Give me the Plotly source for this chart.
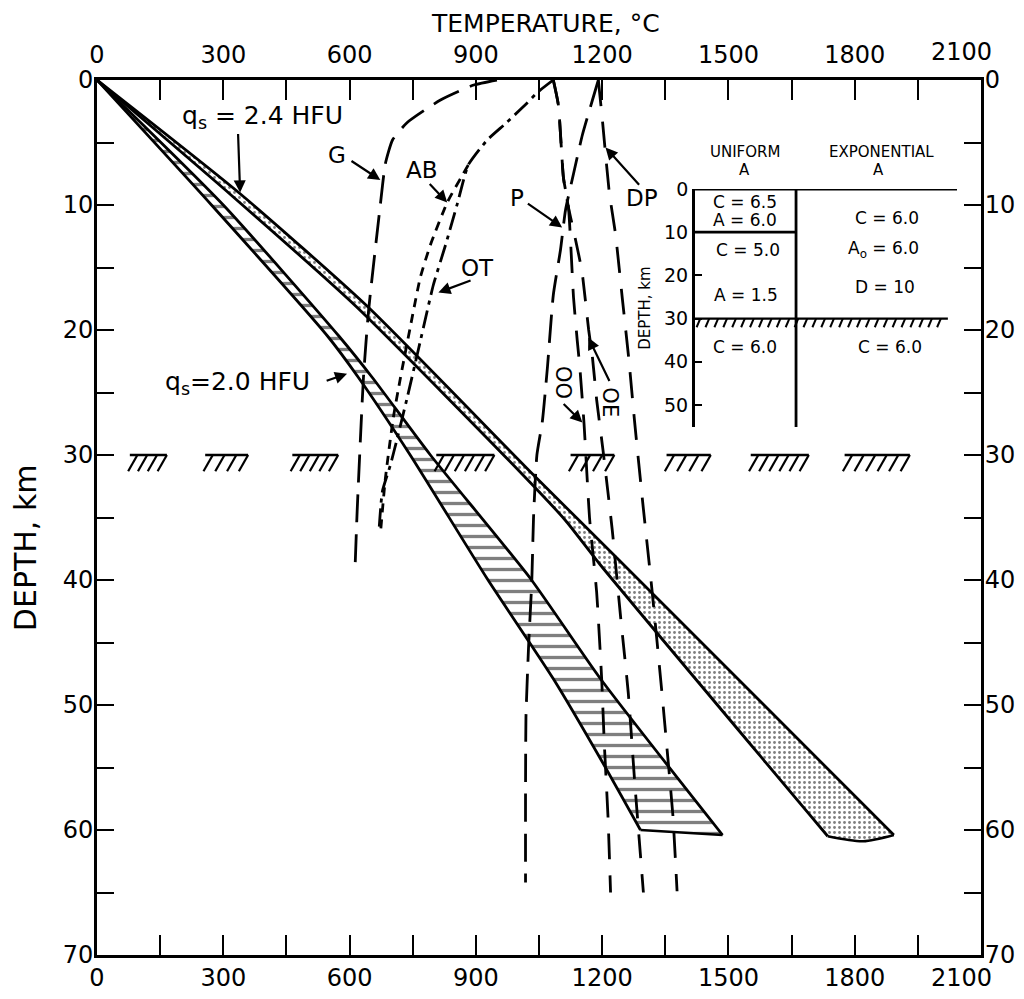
import plotly.graph_objects as go

# ---------------- data ----------------
X_TICKS = list(range(0, 2101, 150))
X_LABELS = [str(v) if v % 300 == 0 and v < 2100 else "" for v in X_TICKS]
X_LAST_LABEL = "2100"
Y_TICKS = list(range(0, 71, 5))
Y_LABELS = [str(v) if v % 10 == 0 else "" for v in Y_TICKS]

# q_s = 2.4 HFU geotherm band (stippled)
HFU24_HOT_T = [0, 340, 642, 1037, 1237, 1893]
HFU24_HOT_Z = [0, 9.1, 18.1, 31.6, 38.3, 60.4]
HFU24_COOL_T = [0, 315, 615, 1012, 1112, 1196, 1736]
HFU24_COOL_Z = [0, 9.1, 18.1, 31.6, 35.2, 38.8, 60.5]
HFU24_TIP_T = [1820]
HFU24_TIP_Z = [60.9]

# q_s = 2.0 HFU geotherm band (hatched)
HFU20_HOT_T = [0, 300, 575, 654, 792, 1030, 1196, 1486]
HFU20_HOT_Z = [0, 10, 20.5, 23.8, 30, 39.9, 47.9, 60.4]
HFU20_COOL_T = [0, 272, 548, 621, 744, 927, 1084, 1196, 1291]
HFU20_COOL_Z = [0, 10, 20.5, 23.8, 30, 39.9, 47.9, 54.3, 60]

# solidus / melting curves
G_T = [950, 895, 816, 737, 702, 685, 673, 645, 633, 618, 613]
G_Z = [0, 0.4, 1.6, 3.4, 4.8, 6.7, 10, 18.5, 23.8, 34.5, 39.1]
OT_T = [1084, 1046, 1023, 970, 927, 882, 856, 828, 799, 768, 737, 713, 697, 678, 670]
OT_Z = [0, 1, 1.8, 3.5, 4.8, 6.8, 9.9, 13.2, 16.4, 20.9, 25.4, 28.7, 30.8, 32.9, 36]
AB_T = [882, 832, 792, 768, 744, 721, 704, 685, 673]
AB_Z = [6.8, 9.8, 13.2, 15.8, 19.8, 23.8, 27, 31.9, 36.4]
P_T = [1191, 1177, 1153, 1132, 1113, 1101, 1084, 1070, 1058, 1045, 1037, 1033, 1025, 1019, 1018, 1018]
P_Z = [0, 1.6, 4.4, 7.5, 10.4, 13.6, 17.2, 23, 27.3, 30, 35, 40, 45.5, 51, 57, 64.2]
DP_T = [1191, 1200, 1217, 1232, 1248, 1263, 1277, 1297, 1319, 1342, 1356, 1368, 1378]
DP_Z = [0, 3, 9, 12.4, 17.5, 22.2, 27.3, 34, 41, 49, 54.2, 58.8, 64.9]
OO_T = [1084, 1096, 1108, 1120, 1132, 1141, 1147, 1157, 1170, 1187, 1199, 1205, 1214, 1220]
OO_Z = [0, 2, 7.8, 10.2, 17.4, 20.9, 23, 27.5, 35, 41, 48, 53, 59, 65]
OE_T = [1084, 1096, 1108, 1120, 1135, 1152, 1168, 1177, 1187, 1202, 1224, 1244, 1262, 1277, 1298]
OE_Z = [0, 2, 7.8, 10.2, 12.5, 15.3, 20, 22.2, 25.6, 29.6, 36, 43, 49, 56, 65]

# Moho (30 km) symbol segments
MOHO_DEPTH = 30
MOHO_SEG_START = [78, 257, 464, 806, 1125, 1353, 1553, 1776]
MOHO_SEG_END = [166, 359, 573, 944, 1229, 1458, 1691, 1931]

# inset: heat-production models
INSET_TICKS = [0, 10, 20, 30, 40, 50]
INSET_BOTTOM = 55.1
UNIFORM_BOUNDS = [0, 10, 30]
UNIFORM_TEXT = ["C = 6.5", "A = 6.0", "C = 5.0", "A = 1.5", "C = 6.0"]
EXPO_TEXT = ["C = 6.0", "A<sub>o</sub> = 6.0", "D = 10", "C = 6.0"]

FONT = "DejaVu Sans"

# ---------------- figure ----------------
fig = go.Figure()


def add_band(hot_t, hot_z, cool_t, cool_z, tip_t, tip_z, pattern):
    xs = hot_t + tip_t + cool_t[::-1]
    ys = hot_z + tip_z + cool_z[::-1]
    fig.add_trace(go.Scatter(
        x=xs, y=ys, mode="lines", fill="toself", fillcolor="white",
        fillpattern=pattern, line=dict(color="rgba(0,0,0,0)", width=0),
        hoverinfo="skip", showlegend=False))
    for t, z in ((hot_t, hot_z), (cool_t, cool_z)):
        fig.add_trace(go.Scatter(
            x=t, y=z, mode="lines",
            line=dict(color="black", width=2.8, shape="spline", smoothing=0.6),
            hoverinfo="skip", showlegend=False))
    bt = [hot_t[-1]] + tip_t + [cool_t[-1]]
    bz = [hot_z[-1]] + tip_z + [cool_z[-1]]
    fig.add_trace(go.Scatter(
        x=bt, y=bz, mode="lines",
        line=dict(color="black", width=2.4, shape="spline", smoothing=0.8),
        hoverinfo="skip", showlegend=False))


add_band(HFU24_HOT_T, HFU24_HOT_Z, HFU24_COOL_T, HFU24_COOL_Z,
         HFU24_TIP_T, HFU24_TIP_Z,
         dict(shape=".", fgcolor="black", bgcolor="white", size=5, solidity=0.25))
add_band(HFU20_HOT_T, HFU20_HOT_Z, HFU20_COOL_T, HFU20_COOL_Z, [], [],
         dict(shape="-", fgcolor="black", bgcolor="white", size=11, solidity=0.3))


def add_curve(t, z, dash, width=2.8):
    fig.add_trace(go.Scatter(
        x=t, y=z, mode="lines",
        line=dict(color="black", width=width, dash=dash, shape="spline", smoothing=0.5),
        hoverinfo="skip", showlegend=False))


add_curve(G_T, G_Z, "28px,12px")
add_curve(OT_T, OT_Z, "18px,6px,4px,6px")
add_curve(AB_T, AB_Z, "9px,7px")
add_curve(P_T, P_Z, "28px,12px")
add_curve(DP_T, DP_Z, "26px,16px")
add_curve(OO_T, OO_Z, "26px,16px")
add_curve(OE_T, OE_Z, "24px,16px")

# Moho symbol
mx, my, sx, sy = [], [], [], []
for s, e in zip(MOHO_SEG_START, MOHO_SEG_END):
    mx += [s, e, None]
    my += [MOHO_DEPTH, MOHO_DEPTH, None]
    n = max(3, round((e - s) / 24))
    for k in range(n):
        t0 = s + 18 + k * (e - s - 18) / (n - 1)
        sx += [t0, t0 - 22, None]
        sy += [MOHO_DEPTH, MOHO_DEPTH + 1.3, None]
fig.add_trace(go.Scatter(x=mx, y=my, mode="lines", line=dict(color="black", width=2.4),
                         hoverinfo="skip", showlegend=False))
fig.add_trace(go.Scatter(x=sx, y=sy, mode="lines", line=dict(color="black", width=2.2),
                         hoverinfo="skip", showlegend=False))

# dummy trace for top/right axes
fig.add_trace(go.Scatter(x=[0], y=[0], xaxis="x2", yaxis="y2", mode="markers",
                         marker=dict(opacity=0), hoverinfo="skip", showlegend=False))

# ---------------- inset ----------------
MID = 0.3855
ix, iy = [], []
ix += [0, 1, None]; iy += [UNIFORM_BOUNDS[0]] * 2 + [None]
ix += [0, MID, None]; iy += [UNIFORM_BOUNDS[1]] * 2 + [None]
ix += [MID, MID, None]; iy += [0, INSET_BOTTOM, None]
fig.add_trace(go.Scatter(x=ix, y=iy, xaxis="x3", yaxis="y3", mode="lines",
                         line=dict(color="black", width=2.8), hoverinfo="skip", showlegend=False))
fig.add_trace(go.Scatter(x=[0, 0.965], y=[UNIFORM_BOUNDS[2]] * 2, xaxis="x3", yaxis="y3",
                         mode="lines", line=dict(color="black", width=2.4),
                         hoverinfo="skip", showlegend=False))
hx, hy = [], []
k = 0
while 0.02 + k * 0.034 <= 0.965:
    x0 = 0.02 + k * 0.034
    hx += [x0, x0 - 0.014, None]
    hy += [UNIFORM_BOUNDS[2], UNIFORM_BOUNDS[2] + 2.0, None]
    k += 1
fig.add_trace(go.Scatter(x=hx, y=hy, xaxis="x3", yaxis="y3", mode="lines",
                         line=dict(color="black", width=2), hoverinfo="skip", showlegend=False))

# ---------------- annotations ----------------
ann = []


def label(text, x, y, size=23, angle=0, xref="x", yref="y"):
    ann.append(dict(text=text, x=x, y=y, xref=xref, yref=yref, showarrow=False,
                    xanchor="center", yanchor="middle", borderpad=0,
                    textangle=angle, font=dict(family=FONT, size=size, color="black")))


def arrow(tx, tz, hx_, hz):
    ann.append(dict(text="", x=hx_, y=hz, ax=tx, ay=tz, xref="x", yref="y",
                    axref="x", ayref="y", showarrow=True, arrowhead=2,
                    arrowsize=1.1, arrowwidth=2.2, arrowcolor="black", standoff=0))


label("q<sub>s</sub> = 2.4 HFU", 392, 2.96, size=25)
arrow(335, 4.2, 340, 9.0)
label("q<sub>s</sub>=2.0 HFU", 333, 24.2, size=25)
arrow(542, 24.1, 594, 23.5)
label("G", 570, 6.0)
arrow(601, 6.4, 673, 8.0)
label("AB", 773, 7.2)
arrow(787, 8.2, 832, 9.8)
label("OT", 903, 15.0)
arrow(891, 16.0, 811, 17.0)
label("P", 998, 9.4)
arrow(1020, 9.8, 1105, 11.8)
label("DP", 1295, 9.4)
arrow(1291, 8.5, 1208, 5.4)
label("OO", 1108, 24.2, size=21, angle=90)
arrow(1105, 25.8, 1153, 27.4)
label("OE", 1219, 25.8, size=21, angle=90)
arrow(1219, 24.2, 1167, 20.6)

# titles
label("TEMPERATURE, °C", 0.5068, 1.0651, size=25, xref="paper", yref="paper")
label("DEPTH, km", -0.0814, 0.465, size=30, angle=-90, xref="paper", yref="paper")
# last temperature tick label, set slightly inside the corner as in the original
label(X_LAST_LABEL, 0.9785, 1.0320, size=24, xref="paper", yref="paper")
label(X_LAST_LABEL, 0.9785, -0.0263, size=24, xref="paper", yref="paper")

# inset header and texts
label("UNIFORM", 0.733, 0.9177, size=15, xref="paper", yref="paper")
label("EXPONENTIAL", 0.887, 0.9177, size=15, xref="paper", yref="paper")
label("A", 0.733, 0.8971, size=15, xref="paper", yref="paper")
label("A", 0.8835, 0.8971, size=15, xref="paper", yref="paper")
for txt, xx, zz in zip(UNIFORM_TEXT, [0.191, 0.191, 0.202, 0.195, 0.191], [3.0, 7.2, 14.1, 24.5, 36.6]):
    label(txt, xx, zz, size=17, xref="x3", yref="y3")
for txt, xx, zz in zip(EXPO_TEXT, [0.733, 0.718, 0.725, 0.744], [6.7, 14.1, 22.7, 36.6]):
    label(txt, xx, zz, size=17, xref="x3", yref="y3")

# ---------------- layout ----------------
xcommon = dict(range=[0, 2100], tickvals=X_TICKS, ticktext=X_LABELS, ticks="inside",
               ticklen=20, tickwidth=2.2, tickcolor="black", showline=True, linecolor="black",
               linewidth=3, showgrid=False, zeroline=False, automargin=False,
               tickfont=dict(family=FONT, size=24, color="black"))
ycommon = dict(range=[70, 0], tickvals=Y_TICKS, ticktext=Y_LABELS, ticks="inside",
               ticklen=17, tickwidth=2.2, tickcolor="black", showline=True, linecolor="black",
               linewidth=3, showgrid=False, zeroline=False, automargin=False,
               tickfont=dict(family=FONT, size=24, color="black"), ticklabelstandoff=-4)

# the page body adds an 8px margin, so the figure is sized to fit inside it
fig.update_layout(
    width=1008, height=983,
    margin=dict(l=89, r=35, t=72, b=36, autoexpand=False),
    paper_bgcolor="white", plot_bgcolor="white",
    font=dict(family=FONT, color="black"),
    showlegend=False,
    xaxis=dict(**xcommon, side="bottom", anchor="y", ticklabelstandoff=-1),
    xaxis2=dict(**xcommon, side="top", overlaying="x", anchor="y", ticklabelstandoff=4),
    yaxis=dict(**ycommon, side="left", anchor="x"),
    yaxis2=dict(**ycommon, side="right", overlaying="y", anchor="x"),
    xaxis3=dict(domain=[0.6765, 0.9729], range=[0, 1], visible=False, anchor="y3",
                automargin=False),
    yaxis3=dict(domain=[0.6034, 0.8754], range=[INSET_BOTTOM, 0], anchor="x3",
                tickvals=INSET_TICKS, ticks="inside", ticklen=7, tickwidth=2,
                tickcolor="black", showline=True, linecolor="black", linewidth=3,
                showgrid=False, zeroline=False, automargin=False,
                tickfont=dict(family=FONT, size=19, color="black"),
                title=dict(text="DEPTH, km", font=dict(family=FONT, size=15, color="black"),
                           standoff=10)),
    annotations=ann,
)

fig.write_html("out.html")
